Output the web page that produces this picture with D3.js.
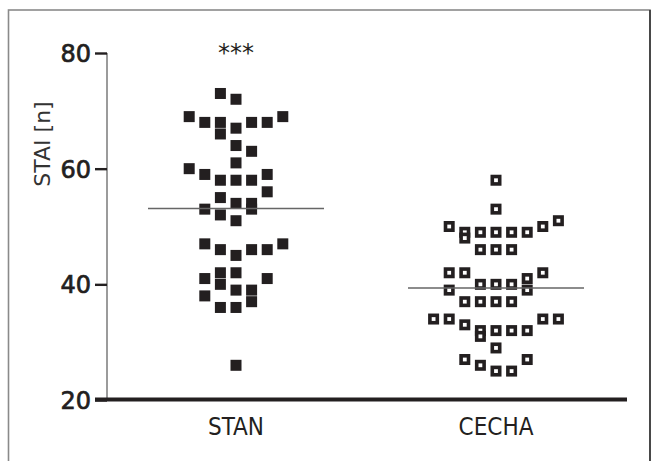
<!DOCTYPE html>
<html lang="en">
<head>
<meta charset="UTF-8">
<title>STAI</title>
<script src="https://cdnjs.cloudflare.com/ajax/libs/d3/7.8.5/d3.min.js"></script>
<style>
  body { margin: 0; background: #fff; }
  svg { display: block; }
</style>
</head>
<body>
<div id="chart"></div>
<script>
// data
var groups = ["STAN", "CECHA"];
var stanValues = [73,72,69,68,68,66,67,68,68,69,64,63,61,60,59,58,58,58,59,56,55,54,54,53,53,52,51,47,46,45,46,46,47,41,42,40,42,41,39,38,39,37,36,36,26];
// column slot of every point in the scatter (0 = middle)
var stanSlots = [-1,0,-3,-2,-1,-1,0,1,2,3,0,1,0,-3,-2,-1,0,1,2,2,-1,0,1,1,-2,-1,0,-2,-1,0,1,2,3,-2,-1,-1,0,2,0,-2,1,1,-1,0,0];
var cechaValues = [58,53,50,49,48,49,49,49,49,50,51,46,46,46,42,42,41,42,40,40,40,39,39,37,37,37,37,34,34,34,34,33,32,31,32,32,32,29,27,26,25,25,27];
var cechaSlots = [0,0,-3,-2,-2,-1,0,1,2,3,4,-1,0,1,-3,-2,2,3,-1,0,1,-3,2,-2,-1,0,1,-4,-3,3,4,-2,-1,-1,0,1,2,0,-2,-1,0,1,2];
var yTicks = [20, 40, 60, 80];
var yTitle = "STAI [n]";
var signif = "***";

var width = 651, height = 461;
var ink = "#231f20";

var svg = d3.select("#chart").append("svg")
  .attr("width", width)
  .attr("height", height);

// outer frame
svg.append("rect")
  .attr("x", 8.5).attr("y", 10)
  .attr("width", 641.5).attr("height", 470)
  .attr("fill", "none")
  .attr("stroke", "#8a8a8a")
  .attr("stroke-width", 1.6);
svg.append("line")
  .attr("x1", 650).attr("x2", 650).attr("y1", 10).attr("y2", height)
  .attr("stroke", "#333").attr("stroke-width", 1.6);

var y = d3.scaleLinear().domain([20, 80]).range([400, 53]);
var x = d3.scalePoint().domain(groups).range([106, 626]).padding(0.5);
var slot = d3.scaleLinear().domain([-1, 1]).range([-15.6, 15.6]);

// y axis
svg.append("line")
  .attr("x1", 107).attr("x2", 107)
  .attr("y1", y(80)).attr("y2", y(20))
  .attr("stroke", "#7a7a7a").attr("stroke-width", 1.5);

var yAxis = d3.axisLeft(y).tickValues(yTicks).tickSize(12).tickPadding(4).tickFormat(d3.format("d"));
var gy = svg.append("g").attr("transform", "translate(107,0)").call(yAxis);
gy.select(".domain").remove();
gy.selectAll(".tick line").attr("stroke", ink).attr("stroke-width", 2.4);
gy.selectAll(".tick text")
  .attr("fill", ink)
  .attr("stroke", ink)
  .attr("stroke-width", 0.7)
  .attr("font-family", "DejaVu Sans, sans-serif")
  .attr("font-size", 24)
  .attr("dy", "0.36em");

// x axis (thick baseline)
svg.append("line")
  .attr("x1", 95).attr("x2", 627)
  .attr("y1", y(20) - 0.5).attr("y2", y(20) - 0.5)
  .attr("stroke", ink).attr("stroke-width", 4);

svg.selectAll(".cat")
  .data(groups)
  .enter().append("text")
  .attr("class", "cat")
  .attr("x", function(d){ return x(d); })
  .attr("y", 435)
  .attr("text-anchor", "middle")
  .attr("fill", ink)
  .attr("font-family", "Liberation Sans Narrow, DejaVu Sans Condensed, sans-serif")
  .attr("font-size", 24)
  .text(function(d){ return d; });

// y title
svg.append("text")
  .attr("transform", "translate(50,144) rotate(-90)")
  .attr("text-anchor", "middle")
  .attr("fill", "#333")
  .attr("font-family", "DejaVu Sans, sans-serif")
  .attr("font-size", 22)
  .text(yTitle);

// points
var sz = 11;
var stan = stanValues.map(function(v, i){ return { v: v, s: stanSlots[i] }; });
var cecha = cechaValues.map(function(v, i){ return { v: v, s: cechaSlots[i] }; });

svg.append("g").selectAll("rect")
  .data(stan)
  .enter().append("rect")
  .attr("x", function(d){ return x("STAN") + slot(d.s) - sz / 2; })
  .attr("y", function(d){ return y(d.v) - sz / 2; })
  .attr("width", sz).attr("height", sz)
  .attr("fill", ink);

var sw = 3.6;
svg.append("g").selectAll("rect")
  .data(cecha)
  .enter().append("rect")
  .attr("x", function(d){ return x("CECHA") + slot(d.s) - (sz - sw) / 2; })
  .attr("y", function(d){ return y(d.v) - (sz - sw) / 2; })
  .attr("width", sz - sw).attr("height", sz - sw)
  .attr("fill", "#fff")
  .attr("stroke", ink)
  .attr("stroke-width", sw);

// mean lines
var means = [
  { g: "STAN", m: d3.mean(stanValues) },
  { g: "CECHA", m: d3.mean(cechaValues) }
];
svg.append("g").selectAll("line")
  .data(means)
  .enter().append("line")
  .attr("x1", function(d){ return x(d.g) - 88; })
  .attr("x2", function(d){ return x(d.g) + 88; })
  .attr("y1", function(d){ return y(d.m); })
  .attr("y2", function(d){ return y(d.m); })
  .attr("stroke", "#666")
  .attr("stroke-width", 1.5);

// significance mark
svg.append("text")
  .attr("x", x("STAN"))
  .attr("y", 61)
  .attr("text-anchor", "middle")
  .attr("fill", ink)
  .attr("font-family", "DejaVu Sans, sans-serif")
  .attr("font-size", 24)
  .text(signif);
</script>
</body>
</html>
